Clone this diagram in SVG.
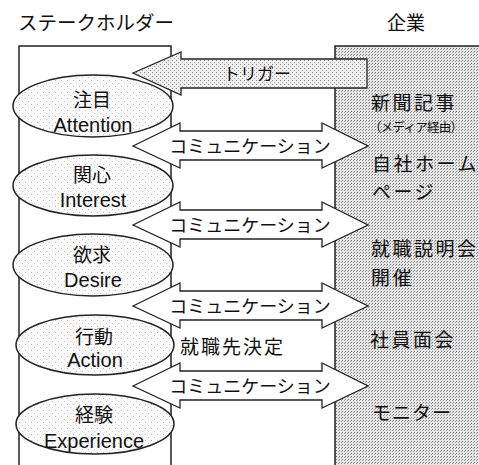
<svg xmlns="http://www.w3.org/2000/svg" width="479" height="465" viewBox="0 0 479 465">
<defs>
<pattern id="dense" patternUnits="userSpaceOnUse" width="3" height="3">
<rect width="3" height="3" fill="#e6e6e6"/>
<rect x="0" y="0" width="1" height="1" fill="#777"/>
<rect x="2" y="1" width="1" height="1" fill="#999"/>
</pattern>
<pattern id="light" patternUnits="userSpaceOnUse" width="4" height="4">
<rect width="4" height="4" fill="#efefef"/>
<rect x="0" y="0" width="1" height="1" fill="#888"/>
<rect x="2" y="2" width="1" height="1" fill="#aaa"/>
</pattern>
<pattern id="sparse" patternUnits="userSpaceOnUse" width="6" height="6">
<rect width="6" height="6" fill="#fafafa"/>
<rect x="1" y="2" width="1" height="1" fill="#bbb"/>
<rect x="4" y="5" width="1" height="1" fill="#ccc"/>
</pattern>
</defs>
<style>
.jp{font-family:"Noto Sans CJK JP","Noto Sans",sans-serif;fill:#111}
.en{font-family:"Liberation Sans",Arial,sans-serif;fill:#111}
.box{stroke:#222;stroke-width:1.5}
.arrow{stroke:#222;stroke-width:1.3;stroke-linejoin:miter}
.ell{fill:url(#sparse);stroke:#222;stroke-width:1.5}
.rt{font-size:19px;letter-spacing:2.5px}
</style>
<text class="jp" x="96" y="30" font-size="19.5" text-anchor="middle">ステークホルダー</text>
<text class="jp" x="406" y="30" font-size="19" text-anchor="middle">企業</text>
<g id="company">
<rect class="box" x="335" y="46" width="150" height="425" fill="url(#dense)"/>
<text class="jp rt" x="371" y="110">新聞記事</text>
<text class="jp" x="369" y="132" font-size="12.5" textLength="94" lengthAdjust="spacing">（メディア経由）</text>
<text class="jp rt" x="372" y="171">自社ホーム</text>
<text class="jp rt" x="372" y="199">ページ</text>
<text class="jp rt" x="371" y="256">就職説明会</text>
<text class="jp rt" x="371" y="285">開催</text>
<text class="jp rt" x="370" y="347">社員面会</text>
<text class="jp" x="372" y="420" font-size="19" letter-spacing="1">モニター</text>
</g>
<g id="stakeholder">
<rect class="box" x="19" y="46" width="152" height="425" fill="#fff"/>
</g>
<g id="connectors">
<g id="trigger">
<polygon class="arrow" fill="url(#light)" points="133,73 181,52 181,59 367,59 367,88 181,88 181,95"/>
<text class="jp" x="257" y="80" font-size="17" text-anchor="middle">トリガー</text>
</g>
<g id="comm1">
<polygon class="arrow" fill="#fff" points="133,146 180,123 180,131 322,131 322,123 368,146 322,168 322,160 180,160 180,168"/>
<text class="jp" x="250" y="153" font-size="18" text-anchor="middle">コミュニケーション</text>
</g>
<g id="comm2">
<polygon class="arrow" fill="#fff" points="133,225 180,202 180,210 322,210 322,202 368,225 322,247 322,239 180,239 180,247"/>
<text class="jp" x="250" y="232" font-size="18" text-anchor="middle">コミュニケーション</text>
</g>
<g id="comm3">
<polygon class="arrow" fill="#fff" points="133,306 180,283 180,291 322,291 322,283 368,306 322,328 322,320 180,320 180,328"/>
<text class="jp" x="250" y="313" font-size="18" text-anchor="middle">コミュニケーション</text>
</g>
<g id="comm4">
<polygon class="arrow" fill="#fff" points="133,386 180,363 180,371 322,371 322,363 368,386 322,408 322,400 180,400 180,408"/>
<text class="jp" x="250" y="393" font-size="18" text-anchor="middle">コミュニケーション</text>
</g>
<text class="jp" x="180" y="354" font-size="19" letter-spacing="2">就職先決定</text>
</g>
<g id="attention">
<ellipse class="ell" cx="93" cy="106" rx="80" ry="31"/>
<text class="jp" x="92" y="107" font-size="19" text-anchor="middle">注目</text>
<text class="en" x="93" y="132" font-size="20" text-anchor="middle">Attention</text>
</g>
<g id="interest">
<ellipse class="ell" cx="93" cy="185.5" rx="80" ry="30.5"/>
<text class="jp" x="92" y="182" font-size="19" text-anchor="middle">関心</text>
<text class="en" x="93" y="207" font-size="20" text-anchor="middle">Interest</text>
</g>
<g id="desire">
<ellipse class="ell" cx="93" cy="265" rx="80" ry="31"/>
<text class="jp" x="92" y="262" font-size="19" text-anchor="middle">欲求</text>
<text class="en" x="93" y="287" font-size="20" text-anchor="middle">Desire</text>
</g>
<g id="action">
<ellipse class="ell" cx="95" cy="345" rx="79" ry="30"/>
<text class="jp" x="94" y="344" font-size="19" text-anchor="middle">行動</text>
<text class="en" x="95" y="367" font-size="20" text-anchor="middle">Action</text>
</g>
<g id="experience">
<ellipse class="ell" cx="95" cy="424" rx="79" ry="30"/>
<text class="jp" x="94" y="422" font-size="19" text-anchor="middle">経験</text>
<text class="en" x="94" y="448" font-size="20" text-anchor="middle">Experience</text>
</g>
</svg>
